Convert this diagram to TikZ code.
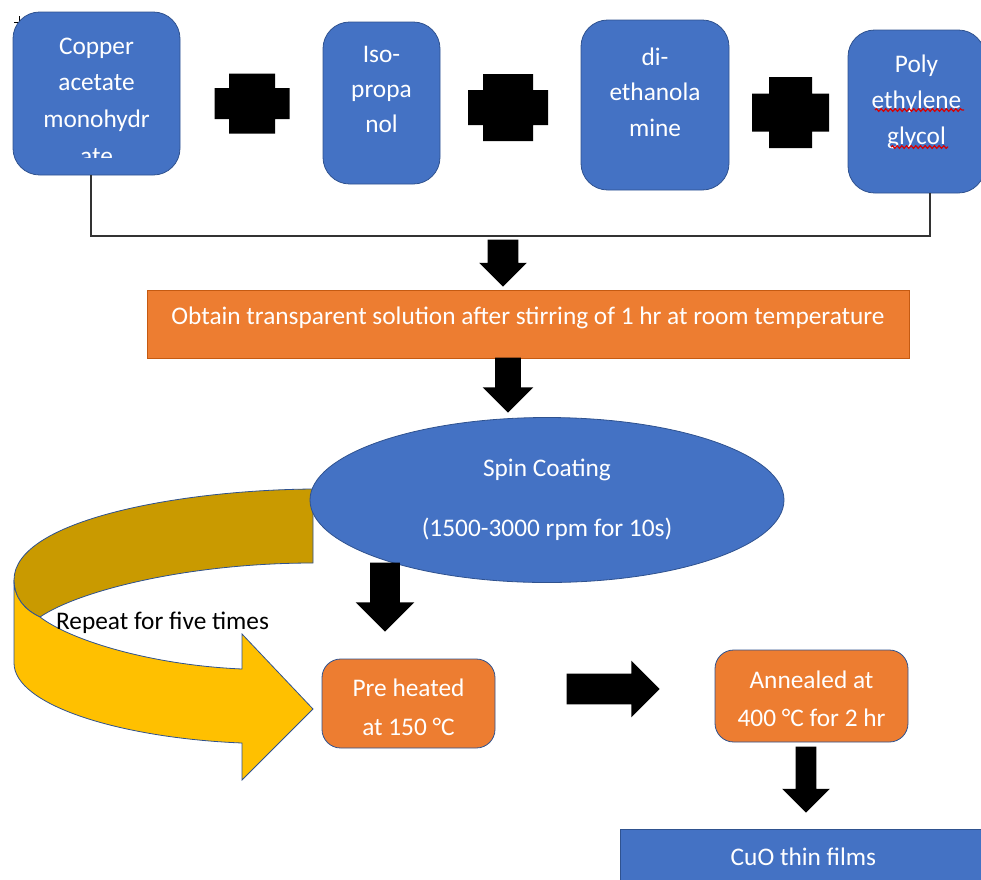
\documentclass[tikz,border=0pt]{standalone}
\usepackage{fontspec}
\setmainfont{Carlito}
\usetikzlibrary{positioning,shapes.geometric,shapes.arrows,decorations.pathmorphing}

\definecolor{boxblue}{HTML}{4472C4}
\definecolor{edgeblue}{HTML}{2F528F}
\definecolor{boxorange}{HTML}{ED7D31}
\definecolor{edgeorange}{HTML}{C55A11}
\definecolor{loopyellow}{HTML}{FFC000}
\definecolor{loopdark}{HTML}{C99A00}

\begin{document}
\begin{tikzpicture}[x=0.75pt,y=-0.75pt,
	chem box/.style={rectangle,rounded corners=20pt,draw=edgeblue,fill=boxblue,line width=0.6pt,inner sep=0pt},
	stage box/.style={rectangle,rounded corners=14pt,draw=edgeblue,fill=boxorange,line width=0.6pt,inner sep=0pt},
	box text/.style={text=white,align=center,inner sep=0pt,font=\fontsize{19pt}{#1}\selectfont},
	box text/.default=26.5pt,
	block arrow/.style n args={3}{single arrow,fill=black,inner xsep=0pt,inner ysep=#1,minimum width=0pt,minimum height=#3,single arrow head extend=#2,anchor=tip},
	spell/.style={draw=red!85!black,line width=0.9pt,decorate,decoration={snake,amplitude=1pt,segment length=3.5pt}}
]
	\useasboundingbox (0,0) rectangle (981,879);
	\clip (0,0) rectangle (981,879);

	% starting chemicals
	\draw[line width=0.6pt] (14,22) -- (24,22) (19,16) -- (19,27);
	\node[chem box,minimum width=125.25pt,minimum height=122.25pt] (cu) at (96.5,93.5) {};
	\node[chem box,minimum width=87.75pt,minimum height=121.5pt] (ipa) at (381.5,103) {};
	\node[chem box,minimum width=111pt,minimum height=127.5pt] (dea) at (655,105) {};
	\node[chem box,minimum width=102.75pt,minimum height=122.25pt] (peg) at (916.5,111.5) {};

	\begin{scope}
		\clip (13,12) rectangle (180,157);
		\node[box text=27.5pt,below=19.5pt of cu.north] (cu text) {Copper\\acetate\\monohydr\\ate};
	\end{scope}
	\node[box text,below=18pt of ipa.north] (ipa text) {Iso-\\propa\\nol};
	\node[box text,below=21pt of dea.north] (dea text) {di-\\ethanola\\mine};
	\node[box text=27pt,below=18.5pt of peg.north] (peg text) {Poly\\ethylene\\glycol};
	\draw[spell] (875,110) -- (964,110);
	\draw[spell] (891,147) -- (948,147);

	% plus signs
	\foreach \px/\py/\aw/\ah/\bw/\bh in {252/103.5/37.5/15.5/23/30,508/107.5/40/17.5/25/33.5,790.5/112.5/38.5/19/21.5/35.5}
		\fill (\px-\aw,\py-\ah) -- (\px-\bw,\py-\ah) -- (\px-\bw,\py-\bh) -- (\px+\bw,\py-\bh) -- (\px+\bw,\py-\ah) -- (\px+\aw,\py-\ah)
			-- (\px+\aw,\py+\ah) -- (\px+\bw,\py+\ah) -- (\px+\bw,\py+\bh) -- (\px-\bw,\py+\bh) -- (\px-\bw,\py+\ah) -- (\px-\aw,\py+\ah) -- cycle;

	\coordinate (mix) at (503,236);
	\draw[line width=1pt,black!80] ([xshift=-4.1pt]cu.south) |- (mix) -| ([xshift=10.1pt]peg.south);

	% solution
	\node[block arrow={11.25pt}{6.375pt}{35.25pt},rotate=-90] (a1) at (503,287) {};
	\node[rectangle,draw=edgeorange,fill=boxorange,line width=0.6pt,minimum width=571.5pt,minimum height=51pt] (stir) at (528,324) {};
	\node[box text,below=13pt of stir.north] (stir text) {Obtain transparent solution after stirring of 1 hr at room temperature};
	\node[block arrow={9.375pt}{9.375pt}{41.25pt},rotate=-90] (a2) at (508,413) {};

	% repeat loop
	\fill[loopdark,draw=edgeblue,line width=0.6pt] (313,489) .. controls (180,490) and (14,520) .. (14,580)
		.. controls (14,598) and (25,610) .. (40,617) .. controls (80,590) and (190,563) .. (313,563) -- cycle;
	\fill[loopyellow,draw=edgeblue,line width=0.6pt] (14,580) -- (14,663) .. controls (14,705) and (120,738) .. (242,743)
		-- (242,780) -- (313,709) -- (242,634) -- (242,669) .. controls (150,665) and (70,640) .. (40,617)
		.. controls (25,610) and (14,598) .. (14,580) -- cycle;
	\node[font=\fontsize{19pt}{26.5pt}\selectfont,inner sep=0pt] (repeat) at (162.5,623) {Repeat for five times};

	% spin coating
	\node[ellipse,box text,draw=edgeblue,fill=boxblue,line width=0.6pt,minimum width=355.5pt,minimum height=123.75pt] (spin) at (547,500) {Spin Coating\\[18.5pt](1500-3000 rpm for 10s)};
	\node[block arrow={10.875pt}{10.875pt}{51.75pt},rotate=-90] (a3) at (385,632) {};

	% heating
	\node[stage box,minimum width=129.75pt,minimum height=66.75pt] (pre) at (408.5,703.5) {};
	\node[box text=29pt,below=15pt of pre.north] (pre text) {Pre heated\\at 150 °C};
	\node[block arrow={11.25pt}{9.75pt}{69.75pt}] (a4) at (660,689) {};
	\node[stage box,minimum width=144.75pt,minimum height=69pt] (anneal) at (811.5,696) {};
	\node[box text=28.5pt,below=15.75pt of anneal.north] (anneal text) {Annealed at\\400 °C for 2 hr};
	\node[block arrow={7.5pt}{10.125pt}{49.5pt},rotate=-90] (a5) at (806,813) {};

	% product
	\node[rectangle,draw=edgeblue,fill=boxblue,line width=0.6pt,minimum width=274.5pt,minimum height=45pt,anchor=north west] (cuo) at (620,829) {};
	\node[box text,below=14.25pt of cuo.north] (cuo text) {CuO thin films};
\end{tikzpicture}
\end{document}
